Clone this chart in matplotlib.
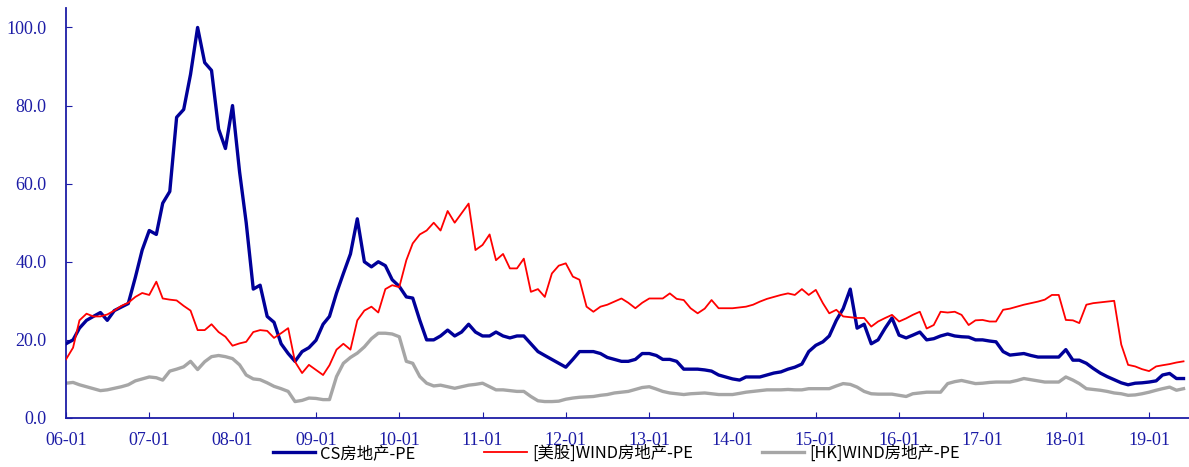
import pandas as pd
import matplotlib
matplotlib.use("Agg")
from matplotlib import pyplot as plt
import matplotlib.dates as mdates
from matplotlib.ticker import FormatStrFormatter

# monthly PE readings, 2006-01 .. 2019-06
months = pd.date_range("2006-01-01", periods=162, freq="MS")

cs_pe = [
    19, 20, 23, 25, 26, 27, 25, 27.5, 28.4, 29.3,
    36, 43, 48, 47, 55, 58, 77, 79, 88, 100,
    91, 89, 74, 69, 80, 63, 50, 33, 34, 26,
    24.5, 19, 16.5, 14.5, 17, 18, 19.9, 24, 26, 32,
    37, 42, 51, 40, 38.7, 40, 39, 35.4, 33.7, 31,
    30.7, 25, 20, 20, 21, 22.5, 21, 22, 24, 22,
    21, 21, 22, 21, 20.5, 21, 21, 19, 17, 16,
    15, 14, 13, 15, 17, 17, 17, 16.5, 15.5, 15,
    14.5, 14.5, 15, 16.5, 16.5, 16, 15, 15, 14.5, 12.5,
    12.5, 12.5, 12.3, 12, 11, 10.5, 10, 9.7, 10.5, 10.5,
    10.5, 11, 11.5, 11.8, 12.5, 13, 13.8, 17, 18.6, 19.5,
    21, 25, 28, 33, 23, 24, 19, 20, 23, 25.6,
    21.2, 20.5, 21.2, 22, 20, 20.3, 21, 21.5, 21, 20.8,
    20.7, 20, 20, 19.7, 19.5, 17, 16.1, 16.3, 16.5, 16,
    15.6, 15.6, 15.6, 15.6, 17.5, 14.8, 14.8, 14, 12.7, 11.5,
    10.6, 9.8, 9, 8.5, 8.9, 9, 9.2, 9.5, 11, 11.4,
    10.1, 10.1,
]

us_pe = [
    15, 18, 25, 26.7, 26, 26, 26.5, 27.5, 28.7, 29.5,
    31, 32, 31.5, 34.9, 30.6, 30.3, 30.1, 28.7, 27.5, 22.5,
    22.5, 24, 22, 20.8, 18.5, 19.1, 19.5, 22, 22.5, 22.3,
    20.5, 21.7, 23, 14.4, 11.5, 13.6, 12.3, 11, 13.5, 17.5,
    19, 17.5, 25, 27.5, 28.5, 27, 33, 34, 33.5, 40.4,
    44.7, 47, 48, 50, 48, 53, 50, 52.4, 54.9, 43,
    44.3, 47, 40.4, 42, 38.3, 38.3, 40.8, 32.3, 33, 31,
    37, 39, 39.6, 36.2, 35.4, 28.5, 27.2, 28.5, 29, 29.8,
    30.6, 29.5, 28.1, 29.5, 30.6, 30.6, 30.6, 31.9, 30.5, 30.2,
    28.1, 26.8, 28, 30.2, 28.1, 28.1, 28.1, 28.3, 28.5, 29,
    29.8, 30.5, 31, 31.5, 31.9, 31.5, 33, 31.5, 32.8, 29.4,
    26.8, 27.7, 26, 25.8, 25.6, 25.6, 23.4, 24.7, 25.6, 26.4,
    24.7, 25.5, 26.4, 27.2, 22.9, 23.8, 27.2, 27, 27.2, 26.4,
    23.8, 25, 25.1, 24.7, 24.7, 27.7, 28, 28.5, 29, 29.4,
    29.8, 30.3, 31.5, 31.5, 25.1, 25, 24.3, 29, 29.4, 29.6,
    29.8, 30, 18.8, 13.6, 13.2, 12.5, 12, 13.2, 13.5, 13.8,
    14.2, 14.5,
]

hk_pe = [
    8.9, 9.1, 8.5, 8, 7.5, 7, 7.2, 7.6, 8, 8.5,
    9.5, 10, 10.5, 10.3, 9.7, 12, 12.5, 13.1, 14.5, 12.4,
    14.4, 15.7, 16, 15.7, 15.2, 13.6, 11, 10, 9.8, 9,
    8.1, 7.5, 6.8, 4.2, 4.5, 5.1, 5, 4.7, 4.7, 10.6,
    14, 15.5, 16.6, 18.2, 20.3, 21.7, 21.7, 21.5, 20.8, 14.5,
    14, 10.6, 8.9, 8.2, 8.4, 8, 7.6, 8, 8.4, 8.6,
    8.9, 8, 7.2, 7.2, 7, 6.8, 6.8, 5.5, 4.4, 4.2,
    4.2, 4.3, 4.8, 5.1, 5.3, 5.4, 5.5, 5.8, 6, 6.4,
    6.6, 6.8, 7.3, 7.8, 8, 7.4, 6.8, 6.4, 6.2, 6,
    6.2, 6.3, 6.4, 6.2, 6, 6, 6, 6.3, 6.6, 6.8,
    7, 7.2, 7.2, 7.2, 7.3, 7.2, 7.2, 7.5, 7.5, 7.5,
    7.5, 8.2, 8.8, 8.6, 7.9, 6.8, 6.2, 6.1, 6.1, 6.1,
    5.8, 5.5, 6.2, 6.4, 6.6, 6.6, 6.6, 8.8, 9.3, 9.6,
    9.2, 8.8, 8.9, 9.1, 9.2, 9.2, 9.2, 9.6, 10.1, 9.8,
    9.5, 9.2, 9.2, 9.2, 10.5, 9.7, 8.8, 7.5, 7.3, 7.1,
    6.8, 6.4, 6.2, 5.8, 5.9, 6.2, 6.6, 7.1, 7.5, 7.9,
    7.1, 7.5,
]

labels = ["CS房地产-PE", "[美股]WIND房地产-PE", "[HK]WIND房地产-PE"]

navy = "#1c1ca6"


def main():
    plt.rcParams["font.family"] = ["Liberation Serif", "DejaVu Serif"]

    fig = plt.figure(figsize=(11.89, 4.67), dpi=100)
    ax = fig.add_axes([0.0555, 0.105, 0.9445, 0.878])

    ax.plot(months, cs_pe, color="#000099", lw=2.4, label=labels[0], zorder=3)
    ax.plot(months, us_pe, color="#ff0000", lw=1.3, label=labels[1], zorder=4)
    ax.plot(months, hk_pe, color="#a6a6a6", lw=2.4, label=labels[2], zorder=2)

    ax.set_ylim(0, 105)
    ax.set_xlim(pd.Timestamp("2006-01-01"), pd.Timestamp("2019-06-25"))
    ax.set_yticks([0, 20, 40, 60, 80, 100])
    ax.yaxis.set_major_formatter(FormatStrFormatter("%.1f"))
    ax.xaxis.set_major_locator(mdates.YearLocator())
    ax.xaxis.set_major_formatter(mdates.DateFormatter("%y-%m"))

    for side in ("top", "right"):
        ax.spines[side].set_visible(False)
    for side in ("left", "bottom"):
        ax.spines[side].set_color(navy)
        ax.spines[side].set_linewidth(1.3)
    ax.tick_params(direction="in", length=4, color=navy, labelcolor=navy,
                   labelsize=13)
    ax.tick_params(axis="x", pad=10)
    ax.tick_params(axis="y", pad=14)

    leg = ax.legend(loc="upper center", bbox_to_anchor=(0.49, -0.05), ncol=3,
                    frameon=False, handlelength=2.6, columnspacing=4.2,
                    handletextpad=0.3, borderaxespad=0,
                    prop={"family": ["Noto Sans CJK SC", "DejaVu Sans"],
                          "size": 11.8})
    for t in leg.get_texts():
        t.set_color("black")

    fig.savefig("out.png", dpi=100)


if __name__ == "__main__":
    main()
